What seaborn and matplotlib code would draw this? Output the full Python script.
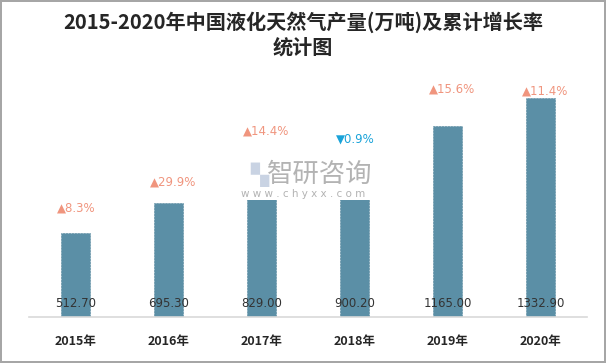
import pandas as pd
import seaborn as sns
import matplotlib.pyplot as plt
from matplotlib.patches import Rectangle

years = ["2015年", "2016年", "2017年", "2018年", "2019年", "2020年"]
output = [512.70, 695.30, 829.00, 900.20, 1165.00, 1332.90]
growth = [8.3, 29.9, 14.4, -0.9, 15.6, 11.4]
# height (in data units) at which each growth label sits
growth_label_y = [665, 823, 1134, 1085, 1390, 1378]

df = pd.DataFrame({"year": years, "output": output})

sns.set_theme(style="white")
plt.rcParams["font.family"] = ["Noto Sans CJK SC", "DejaVu Sans"]

fig = plt.figure(figsize=(6.06, 3.63), dpi=100)
fig.patch.set_edgecolor("#a6a6a6")
fig.patch.set_linewidth(1.5)
ax = fig.add_axes([0.048, 0.127, 0.921, 0.723])

sns.barplot(data=df, x="year", y="output", color="#5b8fa6", saturation=1,
            width=0.31, edgecolor="#54869c", linewidth=0.4, linestyle="--", ax=ax)

ax.set_ylim(0, 1600)
ax.set_xlim(-0.5, 5.5)
ax.set_yticks([])
ax.set_xlabel("")
ax.set_ylabel("")
for s in ["left", "right", "top"]:
    ax.spines[s].set_visible(False)
ax.spines["bottom"].set_color("#d9d9d9")
ax.spines["bottom"].set_linewidth(1.2)
ax.tick_params(axis="x", length=0, pad=13)
for lab in ax.get_xticklabels():
    lab.set_fontsize(9)
    lab.set_fontweight("bold")
    lab.set_color("#262626")

# value labels near the base of each bar
for i, v in enumerate(output):
    ax.annotate(f"{v:.2f}", xy=(i, 0), xytext=(0, 10), textcoords="offset points",
                ha="center", va="center", fontsize=8.5, color="#333333",
                family=["DejaVu Sans"], zorder=5)

# growth labels
for i, (g, y) in enumerate(zip(growth, growth_label_y)):
    if g >= 0:
        txt, col = f"▲{g:.1f}%", "#f0957e"
    else:
        txt, col = f"▼{abs(g):.1f}%", "#1aa3d9"
    ax.text(i - 0.2, y, txt, ha="left", va="center", fontsize=8.5, color=col,
            family=["DejaVu Sans"], zorder=7)

# watermark (its white background hides the tops of the 2017/2018 bars)
ax.add_patch(Rectangle((1.69, 713), 1.53, 240, facecolor="white",
                       edgecolor="none", zorder=5))
ax.text(2.62, 866, "智研咨询", ha="center", va="center", fontsize=19,
        color="#b3b3b3", zorder=6)
ax.text(1.97, 866, "▚", ha="center", va="center", fontsize=17,
        color="#c9d3e3", family=["DejaVu Sans"], zorder=6)
ax.text(2.45, 752, "w w w . c h y x x . c o m", ha="center", va="center",
        fontsize=7.5, color="#b3b3b3", family=["DejaVu Sans"], zorder=6)

fig.text(0.5, 0.94, "2015-2020年中国液化天然气产量(万吨)及累计增长率",
         ha="center", va="center", fontsize=14.5, fontweight="bold", color="#262626")
fig.text(0.5, 0.87, "统计图", ha="center", va="center", fontsize=14.5,
         fontweight="bold", color="#262626")

fig.savefig("out.png", dpi=100)
